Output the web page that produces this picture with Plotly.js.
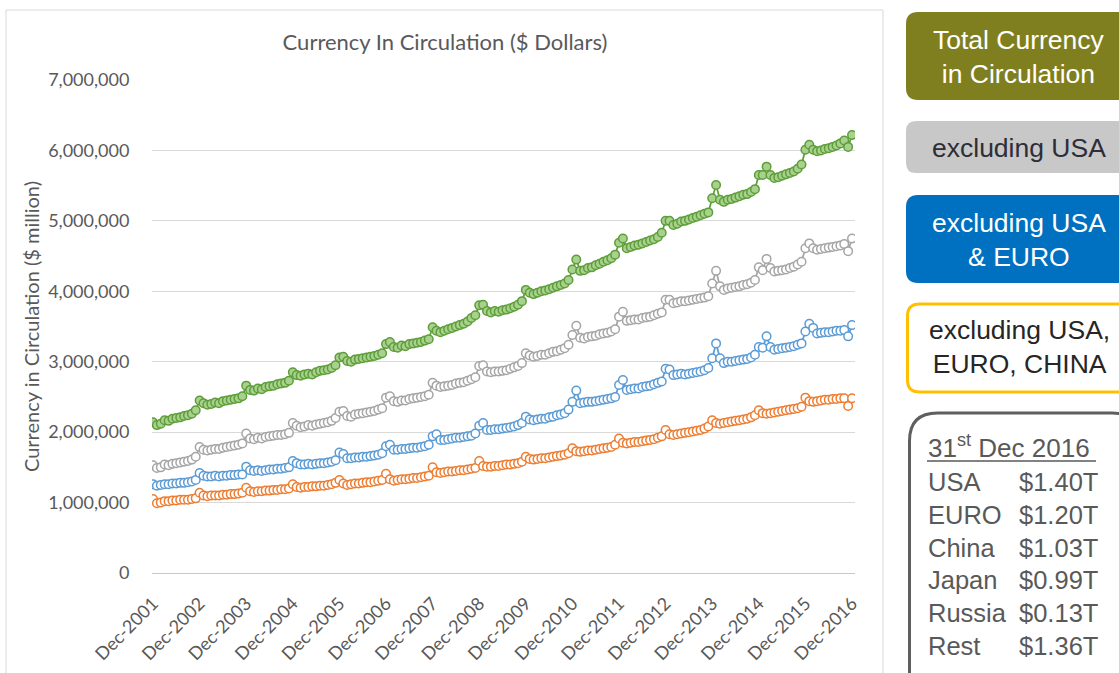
<!DOCTYPE html>
<html>
<head>
<meta charset="utf-8">
<script src="https://cdn.plot.ly/plotly-3.0.1.min.js"></script>
<style>html,body{margin:0;padding:0;background:#fff;}#chart{width:1119px;height:673px;}</style>
</head>
<body>
<div id="chart"></div>
<script>
// Monthly data, Dec-2001 .. Dec-2016 ($ million)
var monthNames = ["Jan","Feb","Mar","Apr","May","Jun","Jul","Aug","Sep","Oct","Nov","Dec"];
var startYear = 2001, startMonth = 11, nPoints = 181;
var tickLabels = ["Dec-2001","Dec-2002","Dec-2003","Dec-2004","Dec-2005","Dec-2006","Dec-2007","Dec-2008","Dec-2009","Dec-2010","Dec-2011","Dec-2012","Dec-2013","Dec-2014","Dec-2015","Dec-2016"];

var totalCurrency = [2140000,
2100000,2120000,2170000,2160000,2190000,2200000,2210000,2230000,2240000,2260000,2310000,2450000,
2410000,2390000,2400000,2420000,2410000,2440000,2450000,2460000,2470000,2480000,2510000,2660000,
2600000,2590000,2620000,2610000,2640000,2650000,2660000,2680000,2690000,2700000,2730000,2850000,
2810000,2800000,2820000,2830000,2820000,2850000,2870000,2880000,2890000,2910000,2950000,3060000,
3070000,3010000,3000000,3030000,3040000,3050000,3060000,3070000,3080000,3100000,3120000,3250000,
3280000,3210000,3200000,3230000,3220000,3250000,3260000,3270000,3280000,3300000,3320000,3490000,
3440000,3420000,3440000,3460000,3480000,3500000,3520000,3540000,3570000,3620000,3660000,3800000,
3810000,3720000,3700000,3720000,3710000,3730000,3740000,3760000,3780000,3810000,3860000,4020000,
3980000,3960000,3980000,4000000,4010000,4030000,4050000,4070000,4090000,4110000,4160000,4310000,
4450000,4290000,4300000,4330000,4340000,4370000,4390000,4420000,4440000,4470000,4520000,4690000,
4750000,4610000,4630000,4650000,4660000,4680000,4700000,4720000,4740000,4770000,4830000,5000000,
5000000,4940000,4960000,4990000,5000000,5020000,5040000,5060000,5080000,5100000,5120000,5320000,
5510000,5300000,5270000,5300000,5310000,5330000,5350000,5370000,5380000,5410000,5450000,5650000,
5650000,5770000,5650000,5610000,5620000,5640000,5660000,5680000,5700000,5740000,5800000,6010000,
6080000,6010000,5990000,6000000,6020000,6030000,6050000,6070000,6100000,6140000,6050000,6220000];

var exclUSA = [1530000,
1490000,1500000,1540000,1530000,1550000,1560000,1570000,1580000,1590000,1610000,1650000,1790000,
1750000,1740000,1750000,1760000,1760000,1780000,1790000,1800000,1810000,1820000,1840000,1980000,
1910000,1900000,1920000,1910000,1930000,1940000,1950000,1960000,1960000,1970000,1990000,2130000,
2090000,2070000,2080000,2100000,2090000,2110000,2120000,2130000,2140000,2160000,2200000,2290000,
2300000,2230000,2220000,2250000,2260000,2270000,2280000,2290000,2300000,2320000,2340000,2490000,
2510000,2440000,2430000,2450000,2450000,2470000,2480000,2490000,2500000,2510000,2530000,2700000,
2660000,2640000,2650000,2660000,2670000,2690000,2700000,2710000,2730000,2750000,2780000,2940000,
2950000,2860000,2850000,2860000,2860000,2870000,2880000,2900000,2920000,2940000,2980000,3120000,
3090000,3070000,3080000,3100000,3100000,3120000,3140000,3150000,3170000,3190000,3240000,3380000,
3510000,3340000,3330000,3350000,3360000,3370000,3390000,3400000,3410000,3430000,3460000,3640000,
3710000,3580000,3590000,3600000,3600000,3620000,3630000,3640000,3660000,3680000,3700000,3880000,
3880000,3830000,3840000,3860000,3860000,3870000,3880000,3890000,3900000,3910000,3930000,4110000,
4290000,4070000,4020000,4040000,4050000,4060000,4070000,4090000,4100000,4120000,4160000,4340000,
4300000,4460000,4330000,4280000,4290000,4300000,4310000,4330000,4350000,4380000,4420000,4610000,
4680000,4610000,4590000,4600000,4610000,4620000,4630000,4640000,4650000,4670000,4570000,4750000];

var exclUSAEuro = [1260000,
1240000,1250000,1260000,1260000,1270000,1270000,1280000,1280000,1290000,1300000,1320000,1420000,
1380000,1370000,1370000,1380000,1370000,1380000,1380000,1390000,1390000,1400000,1400000,1510000,
1460000,1450000,1460000,1450000,1460000,1470000,1470000,1480000,1480000,1490000,1500000,1590000,
1560000,1540000,1540000,1550000,1540000,1550000,1560000,1560000,1570000,1580000,1600000,1710000,
1690000,1630000,1630000,1640000,1640000,1650000,1650000,1660000,1670000,1680000,1700000,1800000,
1820000,1750000,1750000,1760000,1760000,1770000,1780000,1780000,1790000,1800000,1820000,1940000,
1970000,1890000,1890000,1900000,1910000,1920000,1920000,1930000,1940000,1950000,1980000,2090000,
2130000,2030000,2030000,2040000,2040000,2050000,2060000,2070000,2080000,2100000,2130000,2220000,
2180000,2170000,2180000,2190000,2190000,2210000,2220000,2240000,2250000,2270000,2320000,2430000,
2590000,2410000,2420000,2430000,2430000,2440000,2450000,2460000,2470000,2480000,2500000,2670000,
2740000,2600000,2610000,2620000,2620000,2640000,2650000,2660000,2680000,2700000,2720000,2900000,
2890000,2810000,2820000,2830000,2820000,2830000,2840000,2850000,2860000,2880000,2910000,3050000,
3260000,3050000,2980000,3000000,3000000,3010000,3020000,3030000,3040000,3060000,3100000,3210000,
3200000,3360000,3210000,3170000,3180000,3190000,3200000,3210000,3220000,3240000,3260000,3430000,
3540000,3480000,3400000,3410000,3420000,3420000,3430000,3440000,3440000,3450000,3360000,3520000];

var exclUSAEuroChina = [1050000,
990000,1000000,1020000,1020000,1030000,1030000,1040000,1040000,1040000,1050000,1060000,1140000,
1100000,1090000,1100000,1100000,1100000,1110000,1110000,1120000,1120000,1130000,1140000,1210000,
1160000,1150000,1160000,1160000,1170000,1170000,1180000,1180000,1190000,1190000,1200000,1260000,
1220000,1210000,1220000,1220000,1230000,1230000,1240000,1240000,1250000,1260000,1280000,1320000,
1270000,1250000,1260000,1270000,1270000,1280000,1290000,1290000,1300000,1310000,1320000,1410000,
1330000,1310000,1320000,1330000,1330000,1340000,1350000,1350000,1360000,1370000,1380000,1500000,
1430000,1420000,1430000,1440000,1440000,1450000,1460000,1460000,1470000,1480000,1490000,1590000,
1520000,1510000,1510000,1520000,1520000,1530000,1540000,1540000,1550000,1560000,1580000,1650000,
1620000,1610000,1620000,1630000,1630000,1640000,1650000,1660000,1670000,1680000,1700000,1770000,
1730000,1720000,1730000,1740000,1740000,1750000,1760000,1770000,1780000,1790000,1820000,1910000,
1850000,1840000,1850000,1860000,1860000,1870000,1880000,1890000,1900000,1920000,1940000,2030000,
1970000,1960000,1970000,1980000,1990000,2000000,2010000,2020000,2030000,2050000,2080000,2170000,
2130000,2120000,2130000,2140000,2150000,2160000,2170000,2180000,2190000,2210000,2240000,2310000,
2270000,2260000,2270000,2280000,2290000,2300000,2310000,2320000,2330000,2340000,2360000,2490000,
2440000,2430000,2440000,2450000,2460000,2460000,2470000,2470000,2480000,2480000,2370000,2480000];

var legendLabels = ["Total Currency<br>in Circulation","excluding USA","excluding USA<br>& EURO","excluding USA,<br>EURO, CHINA"];
var boxTitle = "31<sup>st</sup> Dec 2016";
var boxNames = ["USA","EURO","China","Japan","Russia","Rest"];
var boxValues = ["$1.40T","$1.20T","$1.03T","$0.99T","$0.13T","$1.36T"];

// category labels for each month
var xCats = [];
for (var i = 0; i < nPoints; i++) {
  var m = (startMonth + i) % 12;
  var y = startYear + Math.floor((startMonth + i) / 12);
  xCats.push(monthNames[m] + "-" + y);
}

// pixel -> paper helpers (plot area: left 152, top 80, width 703, height 493)
var L = 152, T = 80, W = 703, H = 493;
function px(x) { return (x - L) / W; }
function py(y) { return (T + H - y) / H; }
function rr(x0, y0, x1, y1, r) {
  function P(x, y) { return px(x) + "," + py(y); }
  return "M" + P(x0 + r, y0) + " L" + P(x1 - r, y0) + " Q" + P(x1, y0) + " " + P(x1, y0 + r) +
    " L" + P(x1, y1 - r) + " Q" + P(x1, y1) + " " + P(x1 - r, y1) +
    " L" + P(x0 + r, y1) + " Q" + P(x0, y1) + " " + P(x0, y1 - r) +
    " L" + P(x0, y0 + r) + " Q" + P(x0, y0) + " " + P(x0 + r, y0) + " Z";
}

function series(yv, lineColor, fillColor) {
  return {
    x: xCats, y: yv, type: "scatter", mode: "lines+markers",
    line: {color: lineColor, width: 1.75},
    marker: {symbol: "circle", size: 8.5, color: fillColor, line: {color: lineColor, width: 1.5}},
    hoverinfo: "skip", showlegend: false
  };
}

var data = [
  series(exclUSAEuroChina, "#ED7D31", "#ffffff"),
  series(exclUSAEuro, "#5B9BD5", "#ffffff"),
  series(exclUSA, "#A5A5A5", "#ffffff"),
  series(totalCurrency, "#5E9E3A", "#A9D18E")
];

var shapes = [
  {type: "rect", xref: "paper", yref: "paper", x0: px(6), x1: px(883), y0: py(10), y1: py(690),
   line: {color: "#d9d9d9", width: 1}, fillcolor: "rgba(0,0,0,0)", layer: "below"},
  {type: "path", xref: "paper", yref: "paper", path: rr(906, 12, 1140, 100, 12), fillcolor: "#7F7F20", line: {width: 0}},
  {type: "path", xref: "paper", yref: "paper", path: rr(906, 121, 1140, 173, 10), fillcolor: "#C8C8C8", line: {width: 0}},
  {type: "path", xref: "paper", yref: "paper", path: rr(906, 195, 1140, 283, 12), fillcolor: "#0070C0", line: {width: 0}},
  {type: "path", xref: "paper", yref: "paper", path: rr(907.5, 304, 1140, 392, 12), fillcolor: "#ffffff", line: {color: "#FFC000", width: 3}},
  {type: "path", xref: "paper", yref: "paper", path: rr(909.5, 413, 1140, 700, 28), fillcolor: "#ffffff", line: {color: "#5F5F5F", width: 3}},
  {type: "line", xref: "paper", yref: "paper", x0: px(927), x1: px(1096), y0: py(461), y1: py(461),
   line: {color: "#595959", width: 1.5}}
];

var boxFont = "Liberation Sans, Arial, sans-serif";
var annotations = [
  {xref: "paper", yref: "paper", x: px(1019), y: py(57), text: legendLabels[0], showarrow: false,
   xanchor: "center", yanchor: "middle", font: {family: boxFont, size: 26.5, color: "#ffffff"}},
  {xref: "paper", yref: "paper", x: px(1019), y: py(148), text: legendLabels[1], showarrow: false,
   xanchor: "center", yanchor: "middle", font: {family: boxFont, size: 26.5, color: "#2E2E38"}},
  {xref: "paper", yref: "paper", x: px(1019), y: py(240), text: legendLabels[2], showarrow: false,
   xanchor: "center", yanchor: "middle", font: {family: boxFont, size: 26.5, color: "#ffffff"}},
  {xref: "paper", yref: "paper", x: px(1019), y: py(347), text: legendLabels[3], showarrow: false,
   xanchor: "center", yanchor: "middle", font: {family: boxFont, size: 26.5, color: "#262626"}},
  {xref: "paper", yref: "paper", x: px(926), y: py(447), text: boxTitle, showarrow: false,
   xanchor: "left", yanchor: "middle", font: {family: boxFont, size: 26, color: "#595959"}}
];
for (var k = 0; k < boxNames.length; k++) {
  var yy = 482 + k * 32.8;
  annotations.push({xref: "paper", yref: "paper", x: px(926), y: py(yy), text: boxNames[k], showarrow: false,
    xanchor: "left", yanchor: "middle", font: {family: boxFont, size: 25.5, color: "#595959"}});
  annotations.push({xref: "paper", yref: "paper", x: px(1100), y: py(yy), text: boxValues[k], showarrow: false,
    xanchor: "right", yanchor: "middle", font: {family: boxFont, size: 25.5, color: "#595959"}});
}

var tickVals = [];
for (var j = 0; j < xCats.length; j++) { if (xCats[j].indexOf("Dec-") === 0) tickVals.push(xCats[j]); }

var layout = {
  width: 1119, height: 673,
  margin: {l: L, r: 1119 - L - W, t: T, b: 673 - T - H, pad: 0},
  paper_bgcolor: "#ffffff", plot_bgcolor: "#ffffff",
  font: {family: "Lato, sans-serif", color: "#595959"},
  title: {text: "Currency In Circulation ($ Dollars)", xref: "paper", x: px(445), xanchor: "center",
          yref: "container", y: 1 - 42 / 673, yanchor: "middle",
          font: {family: "Lato, sans-serif", size: 22, color: "#595959"}},
  xaxis: {
    type: "category", range: [-0.26, 180.77], tickvals: tickVals, ticktext: tickLabels,
    tickangle: -45, tickfont: {size: 18, color: "#595959"},
    showgrid: false, zeroline: false, showline: false,
    ticks: "outside", ticklen: 12, tickcolor: "rgba(0,0,0,0)", automargin: false, fixedrange: true
  },
  yaxis: {
    range: [0, 7000000], tickvals: [0,1000000,2000000,3000000,4000000,5000000,6000000,7000000],
    tickformat: ",d", tickfont: {size: 18, color: "#595959"},
    showgrid: true, gridcolor: "#D9D9D9", gridwidth: 1,
    zeroline: true, zerolinecolor: "#C8C8C8", zerolinewidth: 1, showline: false,
    ticks: "outside", ticklen: 18, tickcolor: "rgba(0,0,0,0)",
    title: {text: "Currency in Circulation ($ million)", standoff: 3, font: {size: 20, color: "#595959"}},
    automargin: false, fixedrange: true
  },
  shapes: shapes,
  annotations: annotations
};

Plotly.newPlot("chart", data, layout, {staticPlot: true, displayModeBar: false});
</script>
</body>
</html>
